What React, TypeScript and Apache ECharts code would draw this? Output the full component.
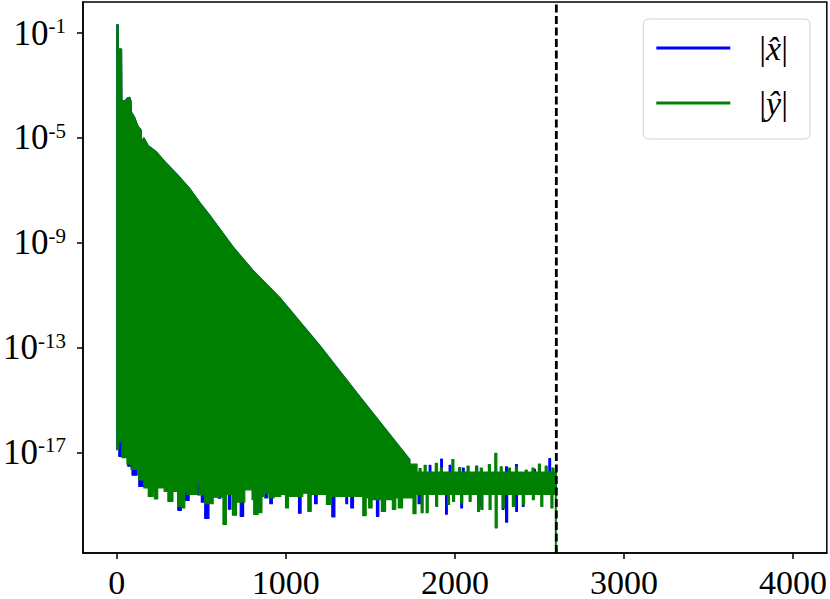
import React, { useEffect, useRef } from "react";
import * as echarts from "echarts";

// ---- axis ticks ----
const xTicks = [0, 1000, 2000, 3000, 4000];
const yTickExponents = [-17, -13, -9, -5, -1];
const seriesNames = ["|x\u0302|", "|y\u0302|"];
const cutoffX = 2600; // dashed vertical line / last index of the signals
const tailE = -23; // last sample falls below the axis floor

// ---- data (x index, log10 of magnitude) ----
// shared upper envelope of the decaying part
const slopeX = [0, 8, 9, 28, 30, 50, 62, 76, 84, 87, 105, 124, 144, 146, 160, 186, 235, 284, 354, 432, 491, 550, 686, 804, 964, 1201, 1465, 1733];
const slopeE = [-0.69, -0.69, -1.61, -1.61, -3.6, -3.58, -3.48, -3.45, -3.6, -4.02, -4.21, -4.54, -4.7, -5.16, -5.0, -5.3, -5.54, -5.91, -6.37, -6.94, -7.47, -7.96, -9.15, -10.05, -11.1, -12.93, -15.1, -17.28];

// |y| (green) noise-floor upper edge, step segments starting at X
const greenTopX = [1733, 1776, 1788, 1800, 1818, 1830, 1884, 1896, 1914, 1926, 1982, 1994, 2022, 2034, 2072, 2084, 2122, 2134, 2150, 2162, 2198, 2210, 2236, 2248, 2268, 2280, 2316, 2328, 2358, 2370, 2416, 2428, 2456, 2468, 2494, 2506, 2534, 2546, 2574, 2586];
const greenTopE = [-17.45, -17.75, -17.62, -17.75, -17.5, -17.75, -17.42, -17.75, -17.6, -17.75, -17.28, -17.75, -17.58, -17.75, -17.52, -17.75, -17.55, -17.75, -17.6, -17.75, -17.47, -17.75, -17.04, -17.75, -17.55, -17.75, -17.6, -17.75, -17.56, -17.75, -17.68, -17.75, -17.6, -17.75, -17.45, -17.75, -17.52, -17.75, -17.6, -17.75];
// |y| (green) lower edge
const greenBottomX = [0, 12, 30, 60, 85, 130, 160, 186, 214, 222, 242, 280, 302, 332, 360, 382, 402, 415, 476, 486, 520, 570, 628, 648, 684, 708, 757, 800, 810, 836, 858, 872, 900, 930, 970, 998, 1015, 1100, 1130, 1150, 1240, 1265, 1455, 1475, 1490, 1510, 1565, 1590, 1630, 1650, 1665, 1690, 1752, 1770, 1800, 1812, 1830, 1842, 1886, 1898, 1956, 1968, 1986, 1998, 2034, 2046, 2084, 2096, 2134, 2146, 2154, 2166, 2202, 2214, 2238, 2250, 2280, 2292, 2340, 2352, 2400, 2412, 2458, 2470, 2508, 2520, 2568, 2580];
const greenBottomE = [-16.89, -16.59, -17.2, -17.45, -17.65, -18.05, -18.36, -18.68, -18.5, -18.78, -18.36, -18.49, -18.87, -18.49, -19.06, -19.12, -18.49, -18.6, -18.17, -18.62, -18.96, -18.71, -19.75, -18.6, -19.4, -18.9, -18.43, -18.8, -19.37, -19.3, -18.68, -18.56, -18.74, -18.68, -18.6, -19.12, -18.68, -18.56, -19.25, -18.6, -18.99, -18.68, -19.41, -18.74, -19.12, -18.8, -19.25, -18.8, -19.18, -18.74, -19.12, -18.74, -19.34, -18.6, -19.3, -18.6, -19.3, -18.6, -19.06, -18.6, -18.99, -18.6, -18.87, -18.6, -18.93, -18.6, -18.87, -18.6, -19.25, -18.6, -19.18, -18.6, -19.18, -18.6, -19.88, -18.6, -19.12, -18.6, -19.06, -18.6, -18.99, -18.6, -18.8, -18.6, -19.06, -18.6, -19.12, -18.6];

// |x| (blue) noise-floor upper edge
const blueTopX = [1733, 1848, 1858, 1916, 1926, 1966, 1976, 2045, 2055, 2124, 2134, 2300, 2310, 2359, 2369, 2467, 2477, 2556, 2566];
const blueTopE = [-17.9, -17.5, -17.9, -17.26, -17.9, -17.5, -17.9, -17.6, -17.9, -17.52, -17.9, -17.55, -17.9, -17.47, -17.9, -17.65, -17.9, -17.24, -17.9];
// |x| (blue) lower edge
const blueBottomX = [0, 12, 30, 65, 85, 90, 120, 130, 160, 361, 382, 404, 428, 478, 486, 500, 512, 520, 545, 600, 615, 660, 675, 730, 750, 840, 856, 876, 890, 905, 920, 1075, 1090, 1170, 1185, 1272, 1290, 1355, 1365, 1384, 1400, 1536, 1550, 1782, 1800, 1945, 1955, 2035, 2045, 2143, 2153, 2280, 2290, 2300, 2312, 2360, 2370, 2399, 2409];
const blueBottomE = [-16.9, -17.15, -17.1, -17.53, -17.6, -17.87, -17.6, -18.3, -18.2, -19.21, -18.2, -18.83, -18.2, -18.62, -18.2, -18.9, -18.2, -19.52, -18.2, -18.75, -18.2, -19.17, -18.2, -19.44, -18.2, -19.2, -18.2, -18.74, -18.2, -18.96, -18.2, -19.32, -18.2, -18.96, -18.2, -19.46, -18.2, -18.96, -18.2, -19.12, -18.2, -19.44, -18.2, -18.96, -18.4, -19.36, -18.4, -19.12, -18.4, -19.06, -18.4, -19.18, -18.4, -19.66, -18.4, -19.25, -18.4, -19.06, -18.4];

const X_MIN = -200;
const X_MAX = 4200;
const Y_MIN = -20.84;
const Y_MAX = 0.186;

const BLUE = "#0000ff";
const GREEN = "#008000";
const FONT = "Liberation Serif";

function stepPoints(xs: number[], es: number[], end: number): number[][] {
  const out: number[][] = [];
  for (let i = 0; i < xs.length; i++) {
    const next = i + 1 < xs.length ? xs[i + 1] : end;
    out.push([xs[i], es[i]]);
    out.push([next, es[i]]);
  }
  return out;
}

function bandRenderer(
  topX: number[],
  topE: number[],
  bottomX: number[],
  bottomE: number[],
  color: string,
  withTail: boolean
) {
  return (_params: any, api: any) => {
    const pts: number[][] = [];
    for (let i = 0; i < slopeX.length; i++) pts.push(api.coord([slopeX[i], slopeE[i]]));
    stepPoints(topX, topE, cutoffX).forEach((p) => pts.push(api.coord(p)));
    stepPoints(bottomX, bottomE, cutoffX)
      .reverse()
      .forEach((p) => pts.push(api.coord(p)));
    const children: any[] = [
      {
        type: "polygon",
        shape: { points: pts },
        style: { fill: color, stroke: color, lineWidth: 1.2, lineJoin: "round" },
      },
    ];
    if (withTail) {
      const a = api.coord([cutoffX, bottomE[bottomE.length - 1]]);
      const b = api.coord([cutoffX, tailE]);
      children.push({
        type: "line",
        shape: { x1: a[0] - 0.5, y1: a[1], x2: b[0] - 0.5, y2: b[1] },
        style: { stroke: color, lineWidth: 2 },
      });
    }
    return { type: "group", children };
  };
}

export default function App() {
  const ref = useRef<HTMLDivElement>(null);

  useEffect(() => {
    if (!ref.current) return;
    const chart = echarts.init(ref.current, null, { renderer: "svg" });
    const option: any = {
      animation: false,
      backgroundColor: "#ffffff",
      grid: {
        left: 83,
        top: 2,
        width: 744,
        height: 555,
        show: true,
        borderColor: "#000",
        borderWidth: 1.5,
        backgroundColor: "transparent",
      },
      legend: {
        orient: "vertical",
        right: 20,
        top: 19,
        padding: [11, 22, 18, 13],
        itemWidth: 74,
        itemHeight: 3,
        itemGap: 19,
        selectedMode: false,
        backgroundColor: "rgba(255,255,255,0.8)",
        borderColor: "#d0d0d0",
        borderWidth: 1,
        borderRadius: 5,
        data: seriesNames.map((n) => ({ name: n, icon: "rect" })),
        formatter: (name: string) => `{bar||}{it|${name.slice(1, -1)}}{bar||}`,
        textStyle: {
          fontFamily: FONT,
          fontSize: 34,
          lineHeight: 36,
          color: "#000",
          padding: [0, 0, 0, 24],
          rich: {
            bar: { fontFamily: FONT, fontSize: 34, lineHeight: 36, color: "#000" },
            it: { fontFamily: FONT, fontSize: 34, lineHeight: 36, fontStyle: "italic", color: "#000" },
          },
        },
      },
      xAxis: {
        type: "value",
        min: X_MIN,
        max: X_MAX,
        splitLine: { show: false },
        axisLine: { show: true, onZero: false, lineStyle: { color: "#000", width: 1.5 } },
        axisTick: { show: true, length: 6, lineStyle: { color: "#000", width: 1.5 }, customValues: xTicks },
        axisLabel: {
          customValues: xTicks,
          margin: 17,
          fontFamily: FONT,
          fontSize: 34,
          lineHeight: 24,
          color: "#000",
          formatter: (v: number) => String(Math.round(v)),
        },
      },
      yAxis: {
        type: "value",
        min: Y_MIN,
        max: Y_MAX,
        splitLine: { show: false },
        axisLine: { show: true, onZero: false, lineStyle: { color: "#000", width: 1.5 } },
        axisTick: { show: true, length: 6, lineStyle: { color: "#000", width: 1.5 }, customValues: yTickExponents },
        axisLabel: {
          customValues: yTickExponents,
          margin: 17,
          color: "#000",
          formatter: (v: number) => `{b|10}{s|${Math.round(v)}}`,
          rich: {
            b: { fontFamily: FONT, fontSize: 35, lineHeight: 35, color: "#000" },
            s: { fontFamily: FONT, fontSize: 21, lineHeight: 27, verticalAlign: "top", color: "#000" },
          },
        },
      },
      series: [
        {
          name: seriesNames[0],
          type: "custom",
          clip: true,
          color: BLUE,
          itemStyle: { color: BLUE },
          data: [[0, 0]],
          renderItem: bandRenderer(blueTopX, blueTopE, blueBottomX, blueBottomE, BLUE, false),
          z: 2,
        },
        {
          name: seriesNames[1],
          type: "custom",
          clip: true,
          color: GREEN,
          itemStyle: { color: GREEN },
          data: [[0, 0]],
          renderItem: bandRenderer(greenTopX, greenTopE, greenBottomX, greenBottomE, GREEN, true),
          z: 3,
        },
        {
          name: "cutoff",
          type: "line",
          silent: true,
          symbol: "none",
          z: 5,
          data: [
            [cutoffX, Y_MIN],
            [cutoffX, Y_MAX],
          ],
          lineStyle: { color: "#000", width: 2.8, type: [8, 3.5] },
        },
      ],
    };
    chart.setOption(option);
    return () => chart.dispose();
  }, []);

  return (
    <div
      ref={ref}
      style={{ position: "fixed", left: 0, top: 0, width: 830, height: 599, background: "#fff" }}
    />
  );
}
